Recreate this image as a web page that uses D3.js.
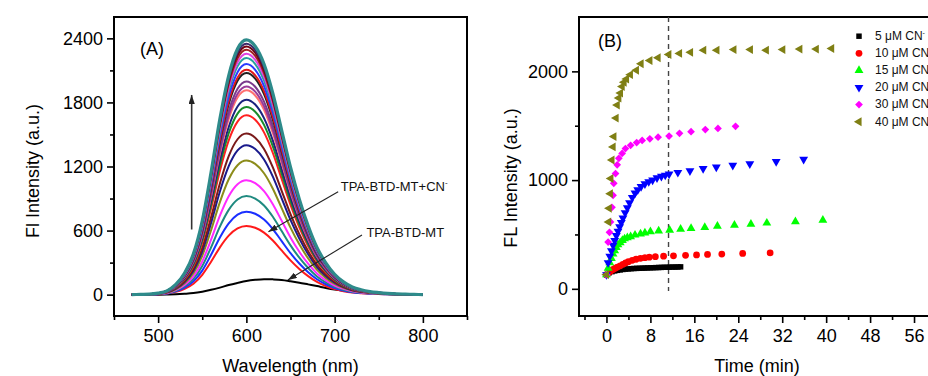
<!DOCTYPE html>
<html>
<head>
<meta charset="utf-8">
<script src="https://cdn.jsdelivr.net/npm/d3@7"></script>
<style>
  body { margin: 0; background: #fff; }
  svg { display: block; font-family: "Liberation Sans", Arial, sans-serif; }
</style>
</head>
<body>
<svg id="chart" width="928" height="376"></svg>
<script>
// ---------- Panel A: emission spectra of TPA-BTD-MT with increasing CN- ----------
const wavelengths = [470, 480, 490, 500, 510, 520, 530, 540, 550, 560, 570, 580, 590, 600, 610, 620, 630,
  640, 650, 660, 670, 680, 690, 700, 710, 720, 730, 740, 750, 760, 770, 780, 790, 800];
// normalised emission band of the probe/CN- adduct (peak = 1)
const bandShape = [0, 0.001, 0.002, 0.006, 0.015, 0.04, 0.085, 0.16, 0.29, 0.48, 0.69, 0.86, 0.965, 1.0, 0.975,
  0.905, 0.79, 0.645, 0.50, 0.375, 0.27, 0.185, 0.125, 0.08, 0.05, 0.03, 0.019, 0.012, 0.008, 0.005, 0.003,
  0.002, 0.001, 0];
// free probe (TPA-BTD-MT) spectrum
const probeSpectrum = [0, 0, 0, 0, 1, 3, 8, 15, 28, 45, 66, 90, 110, 128, 139, 145, 143, 138, 126, 112, 96,
  80, 63, 48, 36, 26, 19, 13, 9, 6, 4, 2, 1, 0];
// peak intensity of each titration spectrum
const peakIntensity = [642, 777, 923, 1072, 1256, 1399, 1508, 1679, 1757, 1826, 1913, 1950, 1997, 2075,
  2106, 2159, 2215, 2255, 2293, 2324, 2349, 2386];
const spectrumColors = ["#ff1a1a", "#1a2fff", "#1f8a80", "#ff2aff", "#8c8c1a", "#1a1a8c", "#7a1a1a",
  "#ff2020", "#1a8c2a", "#1a237e", "#ff7070", "#9a3a9a", "#7a3a8c", "#222222", "#e01818", "#2a3aff",
  "#2aa0a0", "#e040e0", "#a02020", "#700010", "#3a2a6a", "#2e8b8b"];
const wavelengthTicks = [500, 600, 700, 800];
const wavelengthMinor = [450, 550, 650, 750, 850];
const intensityTicksA = [0, 600, 1200, 1800, 2400];
const intensityMinorA = [300, 900, 1500, 2100];

// ---------- Panel B: time course at different CN- concentrations ----------
const time5 = [0, 0.5, 1, 1.5, 2, 2.5, 3, 3.5, 4, 4.5, 5, 5.5, 6, 6.5, 7, 7.5, 8, 8.5, 9, 9.5, 10, 10.5,
  11, 11.5, 12, 12.5, 13, 13.5];
const fl5 = [130, 148, 158, 165, 170, 174, 178, 181, 183, 185, 187, 188, 189, 190, 191, 192, 193, 194, 195,
  196, 197, 198, 198, 199, 200, 200, 201, 202];
const time10 = [0, 0.4, 0.8, 1.2, 1.6, 2.0, 2.5, 3.0, 3.5, 4.0, 4.7, 5.4, 6.2, 7.0, 7.8, 8.9, 10.4, 12.2,
  14.4, 16.4, 18.4, 21.0, 24.8, 29.8];
const fl10 = [130, 150, 165, 178, 190, 200, 212, 225, 238, 250, 262, 272, 280, 286, 291, 296, 300, 303,
  308, 312, 316, 320, 325, 330];
const time15 = [0, 0.3, 0.6, 0.9, 1.2, 1.5, 1.8, 2.1, 2.5, 2.9, 3.3, 3.8, 4.4, 5.2, 6.2, 7.0, 8.0, 9.5,
  11.5, 13.5, 15.4, 17.9, 20.2, 23.3, 26.3, 29.2, 34.4, 39.4];
const fl15 = [130, 190, 240, 280, 320, 350, 380, 405, 425, 445, 460, 470, 480, 495, 505, 515, 525, 533,
  540, 548, 555, 565, 577, 586, 595, 605, 617, 632];
const time20 = [0, 0.3, 0.6, 0.9, 1.2, 1.5, 1.8, 2.1, 2.4, 2.7, 3.0, 3.4, 3.8, 4.2, 4.7, 5.2, 5.7, 6.3,
  7.0, 7.7, 8.4, 9.2, 10.0, 10.7, 11.4, 13.0, 15.2, 17.6, 20.0, 23.0, 26.1, 30.9, 35.9];
const fl20 = [130, 240, 300, 350, 400, 445, 490, 530, 570, 610, 650, 700, 745, 790, 840, 880, 910, 940,
  965, 985, 1000, 1020, 1035, 1045, 1055, 1070, 1085, 1105, 1120, 1135, 1150, 1170, 1190];
const time30 = [0, 0.3, 0.55, 0.73, 1.0, 1.2, 1.33, 1.65, 1.95, 2.25, 2.85, 3.45, 4.4, 5.5, 6.5, 7.9, 9.4,
  11.4, 13.3, 15.4, 18.0, 20.3, 23.5];
const fl30 = [130, 430, 520, 615, 750, 860, 970, 1060, 1140, 1200, 1245, 1290, 1320, 1345, 1365, 1380,
  1395, 1405, 1430, 1445, 1465, 1475, 1495];
const time40 = [0, 0.4, 0.5, 0.7, 0.8, 1.0, 1.2, 1.35, 1.75, 1.95, 2.25, 2.55, 2.85, 3.2, 3.65, 4.35, 5.45,
  6.3, 7.9, 9.4, 11.35, 13.3, 15.3, 17.7, 20.1, 23.2, 26.2, 29.1, 32.1, 35.2, 38.2, 41.0];
const fl40 = [130, 615, 740, 875, 1015, 1185, 1305, 1400, 1570, 1690, 1755, 1800, 1860, 1900, 1930, 1970,
  2010, 2070, 2100, 2125, 2155, 2165, 2175, 2195, 2195, 2200, 2200, 2195, 2200, 2205, 2205, 2210];
const concentrations = ["5", "10", "15", "20", "30", "40"];
const seriesColors = ["#000000", "#ff0000", "#00ff00", "#0000ff", "#ff00ff", "#7f7f14"];
const timeTicks = [0, 8, 16, 24, 32, 40, 48, 56];
const timeMinor = [-4, 4, 12, 20, 28, 36, 44, 52, 60];
const intensityTicksB = [0, 1000, 2000];
const intensityMinorB = [500, 1500];
const reactionTime = 11.3;

// ---------- drawing ----------
const svg = d3.select("#chart");
const TICK_FONT = 18;

const defs = svg.append("defs");
defs.append("marker").attr("id", "head")
  .attr("viewBox", "0 0 10 7").attr("refX", 10).attr("refY", 3.5)
  .attr("markerUnits", "userSpaceOnUse").attr("markerWidth", 9).attr("markerHeight", 6.3)
  .attr("orient", "auto")
  .append("path").attr("d", "M0,0 L10,3.5 L0,7 Z").attr("fill", "#222");

function styleAxis(g) {
  g.select(".domain").remove();
  g.selectAll(".tick line").attr("stroke", "#000").attr("stroke-width", 1.6);
  g.selectAll(".tick text").attr("font-size", TICK_FONT).attr("fill", "#000")
    .attr("font-family", "Liberation Sans, Arial, sans-serif");
}

function drawAxes(x, y, box, xt, xm, yt, ym) {
  const g = svg.append("g");
  g.append("g").attr("transform", `translate(0,${box.bottom})`)
    .call(d3.axisBottom(x).tickValues(xt).tickSize(7).tickPadding(6).tickFormat(d3.format("d")))
    .call(styleAxis);
  g.append("g").attr("transform", `translate(0,${box.bottom})`)
    .call(d3.axisBottom(x).tickValues(xm).tickSize(4).tickFormat(""))
    .call(styleAxis);
  g.append("g").attr("transform", `translate(${box.left},0)`)
    .call(d3.axisLeft(y).tickValues(yt).tickSize(7).tickPadding(4).tickFormat(d3.format("d")))
    .call(styleAxis);
  g.append("g").attr("transform", `translate(${box.left},0)`)
    .call(d3.axisLeft(y).tickValues(ym).tickSize(4).tickFormat(""))
    .call(styleAxis);
  g.append("rect")
    .attr("x", box.left).attr("y", box.top)
    .attr("width", box.right - box.left).attr("height", box.bottom - box.top)
    .attr("fill", "none").attr("stroke", "#000").attr("stroke-width", 2);
}

// ----- Panel A -----
const boxA = { left: 114, right: 467, top: 17, bottom: 316 };
const xA = d3.scaleLinear().domain([450, 850]).range([boxA.left, boxA.right]);
const yA = d3.scaleLinear().domain([-200, 2600]).range([boxA.bottom, boxA.top]);

const spectrumLine = d3.line()
  .x(d => xA(d[0])).y(d => yA(d[1]))
  .curve(d3.curveMonotoneX);

const gSpec = svg.append("g");
gSpec.append("path")
  .datum(wavelengths.map((w, i) => [w, probeSpectrum[i]]))
  .attr("d", spectrumLine).attr("fill", "none")
  .attr("stroke", "#000").attr("stroke-width", 2);

peakIntensity.forEach((p, k) => {
  gSpec.append("path")
    .datum(wavelengths.map((w, i) => [w, p * bandShape[i]]))
    .attr("d", spectrumLine).attr("fill", "none")
    .attr("stroke", spectrumColors[k])
    .attr("stroke-width", k === peakIntensity.length - 1 ? 3.2 : 2)
    .attr("stroke-linejoin", "round");
});

drawAxes(xA, yA, boxA, wavelengthTicks, wavelengthMinor, intensityTicksA, intensityMinorA);

// increasing-CN- arrow
svg.append("line")
  .attr("x1", xA(538)).attr("y1", yA(610))
  .attr("x2", xA(538)).attr("y2", yA(1870))
  .attr("stroke", "#333").attr("stroke-width", 1.6)
  .attr("marker-end", "url(#head)");

// callouts
function callout(text, sup, tx, ty, fx, fy, ax, ay) {
  const t = svg.append("text").attr("x", xA(tx)).attr("y", yA(ty))
    .attr("font-size", 13).attr("fill", "#111").text(text);
  if (sup) t.append("tspan").attr("font-size", 8).attr("dy", -6).text(sup);
  svg.append("line")
    .attr("x1", xA(fx)).attr("y1", yA(fy)).attr("x2", xA(ax)).attr("y2", yA(ay))
    .attr("stroke", "#222").attr("stroke-width", 1.1)
    .attr("marker-end", "url(#head)");
}
callout("TPA-BTD-MT+CN", "-", 707, 968, 704, 963, 625, 589);
callout("TPA-BTD-MT", null, 736, 542, 731, 558, 647, 137);

svg.append("text").attr("x", 140).attr("y", 55).attr("font-size", 18).text("(A)");
svg.append("text").attr("x", (boxA.left + boxA.right) / 2).attr("y", 372)
  .attr("text-anchor", "middle").attr("font-size", 18).text("Wavelength (nm)");
svg.append("text").attr("transform", "translate(39,171) rotate(-90)")
  .attr("text-anchor", "middle").attr("font-size", 18).text("Fl Intensity (a.u.)");

// ----- Panel B -----
const boxB = { left: 579, right: 936, top: 17, bottom: 316 };
const xB = d3.scaleLinear().domain([-5, 60]).range([boxB.left, boxB.right]);
const yB = d3.scaleLinear().domain([-250, 2500]).range([boxB.bottom, boxB.top]);

drawAxes(xB, yB, boxB, timeTicks, timeMinor, intensityTicksB, intensityMinorB);

svg.append("line")
  .attr("x1", xB(reactionTime)).attr("x2", xB(reactionTime))
  .attr("y1", yB(2500)).attr("y2", yB(-20))
  .attr("stroke", "#444").attr("stroke-width", 1.4).attr("stroke-dasharray", "5,4");

const seriesTimes = [time5, time10, time15, time20, time30, time40];
const seriesValues = [fl5, fl10, fl15, fl20, fl30, fl40];
const symbolFor = [
  { type: d3.symbolSquare, size: 30, rot: 0 },
  { type: d3.symbolCircle, size: 36, rot: 0 },
  { type: d3.symbolTriangle, size: 34, rot: 0 },
  { type: d3.symbolTriangle, size: 34, rot: 180 },
  { type: d3.symbolSquare, size: 30, rot: 45 },
  { type: d3.symbolTriangle, size: 34, rot: -90 }
];

seriesTimes.forEach((ts, s) => {
  const sym = d3.symbol().type(symbolFor[s].type).size(symbolFor[s].size);
  svg.append("g").selectAll("path")
    .data(ts.map((t, i) => [t, seriesValues[s][i]]))
    .join("path")
    .attr("d", sym)
    .attr("transform", d => `translate(${xB(d[0])},${yB(d[1])}) rotate(${symbolFor[s].rot})`)
    .attr("fill", seriesColors[s]);
});

// legend
const legend = svg.append("g");
concentrations.forEach((c, i) => {
  const base = 40 + i * 17.1;
  const sym = d3.symbol().type(symbolFor[i].type).size(symbolFor[i].size);
  legend.append("path").attr("d", sym)
    .attr("transform", `translate(859,${base - 3.8}) rotate(${symbolFor[i].rot})`)
    .attr("fill", seriesColors[i]);
  const t = legend.append("text").attr("x", 875).attr("y", base).attr("font-size", 12)
    .attr("fill", "#111").text(`${c} \u03bcM CN`);
  t.append("tspan").attr("font-size", 7).attr("dy", -5).text("-");
});

svg.append("text").attr("x", 598).attr("y", 47).attr("font-size", 18).text("(B)");
svg.append("text").attr("x", 757).attr("y", 372)
  .attr("text-anchor", "middle").attr("font-size", 18).text("Time (min)");
svg.append("text").attr("transform", "translate(517,178) rotate(-90)")
  .attr("text-anchor", "middle").attr("font-size", 18).text("FL Intensity (a.u.)");
</script>
</body>
</html>
